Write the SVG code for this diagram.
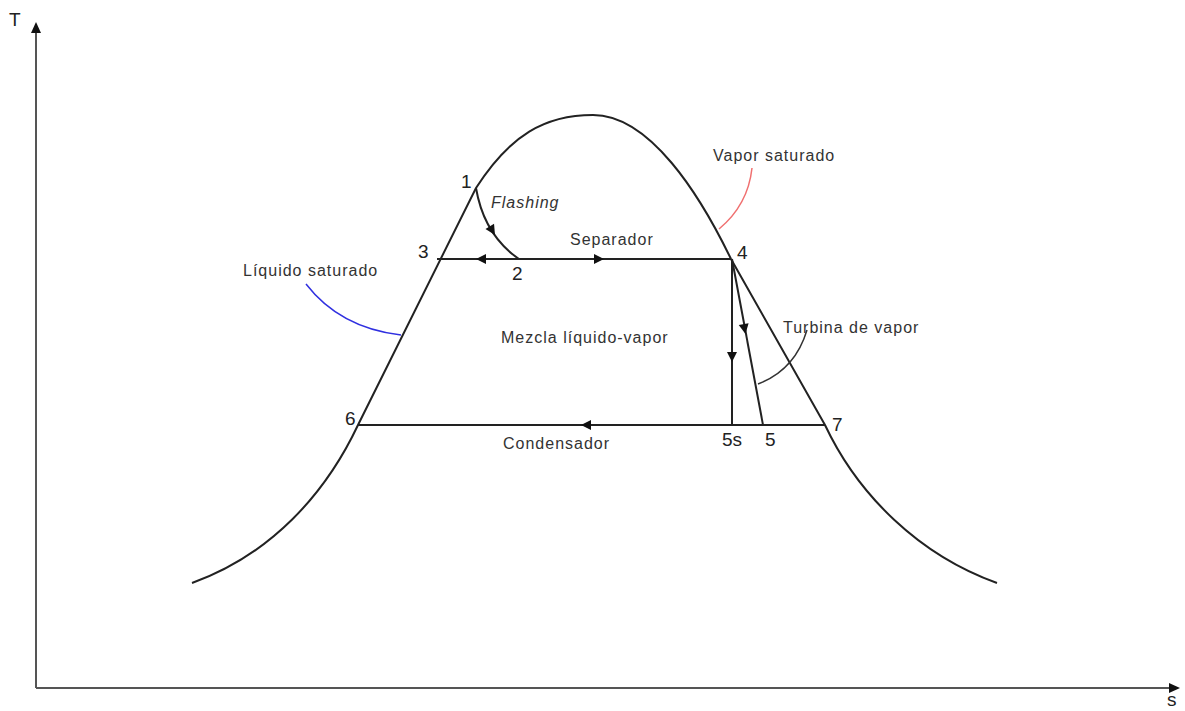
<svg xmlns="http://www.w3.org/2000/svg" width="1185" height="711" viewBox="0 0 1185 711">
<style>
.ln{fill:none;stroke:#222;stroke-width:2}
.ax{fill:none;stroke:#555;stroke-width:2}
.t{font-family:"Liberation Sans",Arial,sans-serif;font-size:16px;fill:#333;letter-spacing:1px}
.n{font-family:"Liberation Sans",Arial,sans-serif;font-size:19px;fill:#222}
.ar{fill:#111}
</style>
<rect width="1185" height="711" fill="#fff"/>
<g id="axes">
<path class="ax" d="M36,688 L36,28"/>
<path d="M36,22 L31,33 L41,33 z" fill="#111"/>
<path class="ax" d="M36,688 L1172,688"/>
<path d="M1180,688 L1169,683 L1169,693 z" fill="#111"/>
<text class="n" x="9" y="26">T</text>
<text class="n" x="1167" y="706">s</text>
</g>
<g id="dome">
<path class="ln" d="M192,583 C270,555 325,495 358,425 L476,188 C510,135 545,115 593,115 C650,115 700,195 731,259 L825,425 C858,495 919,555 997,583"/>
</g>
<g id="connectors">
<path class="ln" d="M437,259 L731,259"/>
<path class="ln" d="M358,425 L825,425"/>
<path class="ln" d="M732,259 L732,425"/>
<path class="ln" d="M732,259 L763,425"/>
<path class="ln" d="M476,188 Q484,235 519,259"/>
<path class="ar" d="M0,0 L-10,-5 L-10,5 z" transform="translate(495,235) rotate(58.5)"/>
<path class="ar" d="M0,0 L-10,-5 L-10,5 z" transform="translate(476,259) rotate(180)"/>
<path class="ar" d="M0,0 L-10,-5 L-10,5 z" transform="translate(604,259)"/>
<path class="ar" d="M0,0 L-10,-5 L-10,5 z" transform="translate(581,425) rotate(180)"/>
<path class="ar" d="M0,0 L-10,-5 L-10,5 z" transform="translate(732,362) rotate(90)"/>
<path class="ar" d="M0,0 L-10,-5 L-10,5 z" transform="translate(745.5,334) rotate(79.4)"/>
<path fill="none" stroke="#f07070" stroke-width="1.5" d="M752,168 Q748,205 719,229"/>
<path fill="none" stroke="#3030e0" stroke-width="1.5" d="M306,284 Q340,328 401,335"/>
<path fill="none" stroke="#333" stroke-width="1.5" d="M807,330 Q795,370 758,384"/>
</g>
<g id="labels">
<text class="n" x="461" y="188">1</text>
<text class="n" x="418" y="258">3</text>
<text class="n" x="512" y="280">2</text>
<text class="n" x="737" y="259">4</text>
<text class="n" x="345" y="425">6</text>
<text class="n" x="832" y="431">7</text>
<text class="n" x="722" y="446">5s</text>
<text class="n" x="765" y="446">5</text>
<text class="t" x="491" y="208" font-style="italic">Flashing</text>
<text class="t" x="570" y="245">Separador</text>
<text class="t" x="243" y="276">Líquido saturado</text>
<text class="t" x="713" y="161">Vapor saturado</text>
<text class="t" x="501" y="343">Mezcla líquido-vapor</text>
<text class="t" x="783" y="333">Turbina de vapor</text>
<text class="t" x="503" y="449">Condensador</text>
</g>
</svg>
